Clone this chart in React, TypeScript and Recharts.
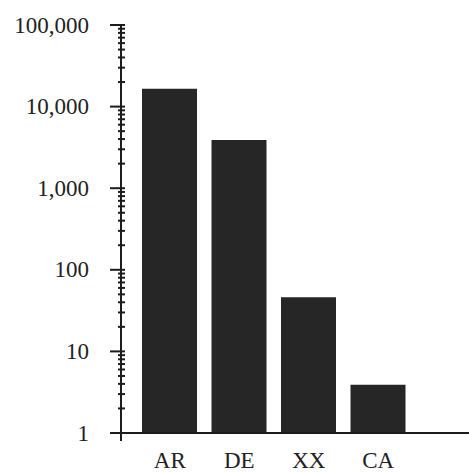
import { BarChart, Bar, XAxis, YAxis } from "recharts";

const countries = ["AR", "DE", "XX", "CA"];
const counts = [16500, 3900, 46, 3.9];

const majorTicks = [1, 10, 100, 1000, 10000, 100000];
const majorLabels = ["1", "10", "100", "1,000", "10,000", "100,000"];
const minorSteps = [2, 3, 4, 5, 6, 7, 8, 9];

const data = countries.map((name, i) => ({ name, value: counts[i] }));

const allTicks: number[] = [];
majorTicks.forEach((m, i) => {
  allTicks.push(m);
  if (i < majorTicks.length - 1) minorSteps.forEach((s) => allTicks.push(m * s));
});

const ink = "#1c1c1c";
const font = "'Liberation Serif', 'Times New Roman', serif";

const YTick = (props: any) => {
  const { x, y, payload } = props;
  const idx = majorTicks.indexOf(payload.value);
  const major = idx >= 0;
  return (
    <g>
      <line x1={major ? x - 11 : x - 3} x2={x + 4} y1={y} y2={y} stroke={ink} strokeWidth={2} />
      {payload.value === 1 && <line x1={x} x2={x} y1={y} y2={y + 8} stroke={ink} strokeWidth={2} />}
      {major && (
        <text x={x - 32} y={y} textAnchor="end" dominantBaseline="central" fill="#222"
          fontSize={23} fontFamily={font}>
          {majorLabels[idx]}
        </text>
      )}
    </g>
  );
};

const XTick = (props: any) => {
  const { x, y, payload } = props;
  return (
    <text x={x} y={y + 35} textAnchor="middle" fill="#222" fontSize={23} fontFamily={font}>
      {payload.value}
    </text>
  );
};

export default function App() {
  return (
    <div style={{ position: "absolute", left: 0, top: 0, background: "#fff" }}>
      <BarChart width={469} height={473} data={data} margin={{ top: 25, right: 0, bottom: 0, left: 0 }}>
        <XAxis
          dataKey="name"
          height={40}
          padding={{ left: 14, right: 56 }}
          tickLine={false}
          tickSize={0}
          tickMargin={0}
          axisLine={{ stroke: ink, strokeWidth: 2 }}
          tick={<XTick />}
        />
        <YAxis
          scale="log"
          type="number"
          domain={[1, 100000]}
          ticks={allTicks}
          interval={0}
          width={121}
          tickLine={false}
          tickSize={0}
          tickMargin={0}
          axisLine={{ stroke: ink, strokeWidth: 2 }}
          tick={<YTick />}
        />
        <Bar dataKey="value" fill="#262626" barSize={55} isAnimationActive={false} />
      </BarChart>
    </div>
  );
}
